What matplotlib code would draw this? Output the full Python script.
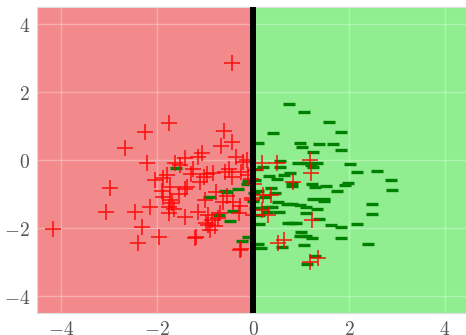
"""
Decision regions of a linear classifier, two classes
"""

import matplotlib
matplotlib.use('Agg')
import matplotlib.pyplot as plt
from matplotlib.ticker import FuncFormatter

plt.rcParams['mathtext.fontset'] = 'cm'

# class "+" (red crosses)
pos_x = [-0.43, -4.17, -1.76, -2.26, -2.66, -2.21, -2.98, -3.06, -2.46, -2.32,
         -2.40, -1.95, -2.15, -1.20, -0.27, -0.60, -0.44, -0.67, -1.06, -0.35,
         -1.41, -1.15, -1.53, -1.62, -1.24, -0.84, -0.96, -0.51, -0.44, -0.58,
         -1.87, -1.80, -0.13, -0.24, -1.02, -1.73, -1.42, -1.38, -1.88, -1.73,
         -1.74, -1.00, -0.63, -0.41, -0.27, -0.03, -1.14, -1.76, -1.42, -0.93,
         -0.69, -0.86, -0.93, -0.90, -0.72, -1.19, -0.25, 0.01, -2.04, -1.90,
         -1.68, -1.30, -1.10, -0.78, -0.20, -0.10, -0.55, -0.30, -1.55, -1.65,
         0.18, 0.51, 1.19, 1.21, 0.83, 0.21, 0.37, 0.32, 0.18, 1.22,
         0.65, 0.53, 1.19, 1.36, 0.05, -0.03, 0.02, -0.05, -0.80, -0.98]
pos_y = [2.84, -2.04, 1.10, 0.81, 0.35, -0.10, -0.83, -1.54, -1.53, -1.96,
         -2.45, -2.25, -1.37, -2.28, -2.65, 0.85, 0.52, 0.42, 0.20, 0.08,
         0.05, 0.10, -0.15, -0.10, -0.25, -0.37, -0.41, -0.25, -0.49, -0.34,
         -0.54, -0.44, 0.00, -0.34, -0.49, -0.80, -0.86, -0.78, -1.08, -1.18,
         -1.37, -1.18, -1.23, -1.23, -1.35, -1.18, -1.52, -1.57, -1.69, -1.62,
         -1.57, -1.76, -1.91, -2.06, -1.72, -2.25, -2.63, -1.62, -0.59, -0.90,
         -1.25, -0.40, -0.65, -0.95, -0.05, -0.45, -1.05, -1.55, -1.00, -1.45,
         -0.10, -0.08, 0.00, -0.39, -0.64, -1.03, -1.03, -1.62, -1.47, -1.76,
         -2.35, -2.45, -2.99, -2.89, -0.30, -1.13, -0.70, -0.55, -1.95, -1.85]

# class "-" (green dashes)
neg_x = [0.75, 1.06, 1.59, 1.83, 0.41, 0.10, 0.98, 1.03, 1.38, 1.66,
         1.24, 1.83, 0.56, 0.94, 1.33, 1.12, 2.03, 2.16, 2.59, 2.87,
         2.89, 1.97, 1.92, 1.76, 1.52, 1.29, 1.22, 0.81, 0.82, 0.56,
         0.77, 0.49, 0.34, 0.08, 0.03, 0.11, 0.38, 0.46, 1.26, 1.47,
         1.48, 2.47, 2.48, 0.53, 0.70, 0.82, 0.98, 1.10, 1.33, 0.29,
         0.39, 0.15, 0.29, 0.55, 1.10, 0.13, 1.38, 0.72, 0.81, 0.13,
         1.63, 1.83, 2.17, 1.00, 0.98, 1.10, 1.22, 1.83, 1.07, 2.40,
         0.61, 0.10, 0.16, -0.10, -0.23, 1.12, 1.29, -1.60, -0.91, -0.58,
         -0.55, -0.31, -0.13, -0.10, -0.41, -0.71, -0.48, 0.04, 0.00, 0.05,
         0.20, 1.25, 0.65, 0.90, 0.25, 1.20]
neg_y = [1.64, 1.40, 1.11, 0.81, 0.78, 0.49, 0.49, 0.37, 0.46, 0.46,
         0.23, 0.28, -0.02, -0.08, -0.10, -0.10, -0.13, -0.34, -0.31, -0.60,
         -0.89, -0.67, -0.74, -0.90, -0.76, -0.78, -0.71, -0.69, -0.75, -0.22,
         -0.37, -0.56, -0.46, -0.27, -0.98, -0.90, -0.83, -0.96, -1.16, -1.16,
         -1.22, -1.30, -1.59, -1.24, -1.29, -1.29, -1.33, -1.37, -1.45, -1.37,
         -1.37, -1.42, -1.53, -1.53, -1.57, -1.62, -1.73, -1.84, -1.84, -1.88,
         -1.92, -1.98, -1.89, -2.13, -2.23, -2.23, -2.29, -2.30, -2.51, -2.48,
         -2.55, -2.48, -2.60, -2.27, -2.39, -3.06, -2.82, -0.24, -1.10, -0.90,
         -0.94, -0.86, -0.71, -0.62, -1.49, -1.62, -1.79, -1.40, -1.20, -0.60,
         -0.20, -0.20, -0.45, -1.85, -1.10, -0.15]

fig = plt.figure(figsize=(4.66, 3.35), dpi=100)
ax = fig.add_axes([37/466, 22/335, 432/466, 306/335])

ax.axvspan(-4.5, 0, color='#F28A8C', zorder=0)
ax.axvspan(0, 4.5, color='#90EE90', zorder=0)
ax.grid(True, color='white', alpha=0.3, linewidth=1, zorder=1)

ax.plot(neg_x, neg_y, '_', color='green', markersize=9, markeredgewidth=2.4,
        linestyle='none', zorder=3)
ax.plot(pos_x, pos_y, '+', color='red', markersize=12, markeredgewidth=1.2,
        alpha=0.85, linestyle='none', zorder=4)
ax.axvline(0, color='black', linewidth=4.3, zorder=5)

ax.set_xlim(-4.5, 4.5)
ax.set_ylim(-4.5, 4.5)
ax.set_xticks([-4, -2, 0, 2, 4])
ax.set_yticks([-4, -2, 0, 2, 4])
fmt = FuncFormatter(lambda v, p: '$%d$' % v)
ax.xaxis.set_major_formatter(fmt)
ax.yaxis.set_major_formatter(fmt)
ax.tick_params(length=0, labelsize=14, labelcolor='#555555', pad=5)
for s in ax.spines.values():
    s.set_color('#dddddd')
    s.set_linewidth(0.8)

fig.savefig('out.png', dpi=100)
